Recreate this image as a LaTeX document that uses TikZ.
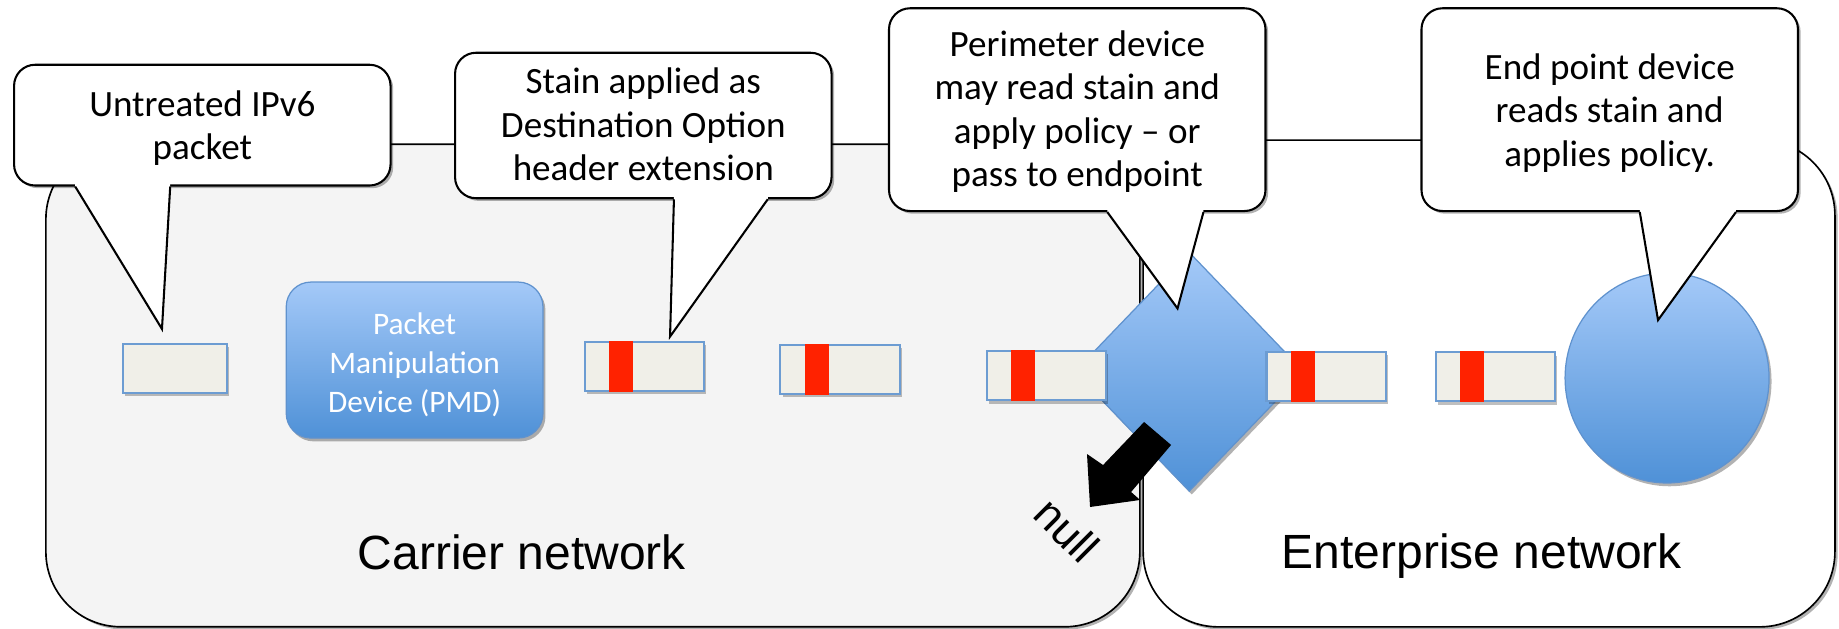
\documentclass[tikz,border=0pt]{standalone}
\usepackage{fontspec}
\setmainfont{Carlito}
\newfontfamily\arialfont{Liberation Sans}
\usetikzlibrary{shapes.geometric,shadows,calc}

\definecolor{blueTop}{HTML}{A4C9F8}
\definecolor{blueBot}{HTML}{4F91D7}
\definecolor{blueEdge}{HTML}{5F92CE}
\definecolor{packetFill}{HTML}{F0EFE8}
\definecolor{packetEdge}{HTML}{6C9CD2}
\definecolor{stainRed}{HTML}{FF2200}
\definecolor{carrierFill}{HTML}{F4F4F4}

% centred lines, lowered a little inside their box without changing its size
\newcommand\droptext[2]{\raisebox{-#1}[\height][\depth]{\begin{tabular}{@{}c@{}}#2\end{tabular}}}

\begin{document}
\begin{tikzpicture}[x=0.02cm,y=-0.02cm,
  softshadow/.style={drop shadow={shadow xshift=1.3pt,shadow yshift=-1.3pt,opacity=0.3,fill=black}},
  net/.style={rectangle,draw=black,line width=0.8pt,rounded corners=36.4pt,inner sep=0pt,softshadow},
  netlabel/.style={font=\arialfont\fontsize{23.3}{28}\selectfont,anchor=base,inner sep=0pt},
  callout/.style={rectangle,draw=black,fill=white,line width=1pt,rounded corners=10.2pt,
    minimum width=182.7pt,inner sep=0pt,
    font=\fontsize{18}{21}\selectfont,softshadow},
  pointer/.style={draw=black,line width=1pt,line join=miter},
  bluebody/.style={top color=blueTop,bottom color=blueBot,draw=blueEdge,line width=0.6pt,inner sep=0pt,
    drop shadow={shadow xshift=1.2pt,shadow yshift=-1.6pt,opacity=0.3,fill=black}},
  packet/.style={rectangle,fill=packetFill,draw=packetEdge,line width=1pt,inner sep=0pt,
    minimum width=57.8pt,minimum height=23.8pt,
    drop shadow={shadow xshift=1pt,shadow yshift=-1.5pt,opacity=0.25,fill=black}},
  stain/.style={fill=stainRed}
]
\useasboundingbox (0,0) rectangle (1568,536);

% the two networks
\node[net,fill=carrierFill,minimum width=530.9pt,minimum height=234.2pt] (carrier) at (505.5,328.7) {};
\node[net,fill=white,minimum width=335.7pt,minimum height=236.2pt] (enterprise) at (1269.6,327) {};

% perimeter device and end point device
\node[diamond,bluebody,minimum width=111.5pt,minimum height=116.1pt] (perimeter) at (1014,317) {};
\node[ellipse,bluebody,minimum width=99pt,minimum height=101.9pt] (endpoint) at (1421.4,322.3) {};

% packet manipulation device
\node[rectangle,bluebody,rounded corners=12pt,minimum width=124.6pt,minimum height=75.7pt,
  text=white,font=\fontsize{15.2}{19}\selectfont] (pmd) at (353.5,307)
  {\droptext{2.6pt}{Packet\\Manipulation\\Device (PMD)}};

% packets along the path
\node[packet,minimum width=50.5pt] (p1) at (149.3,314.2) {};
\node[packet] (p2) at (549.5,312.5) {};
\node[packet] (p3) at (716.2,315.1) {};
\node[packet] (p4) at (892.3,320.5) {};
\node[packet] (p5) at (1130.6,321) {};
\node[packet] (p6) at (1275.1,321.4) {};
\foreach \p in {p2,p3,p4,p5,p6}{
  \fill[stain] ($(\p.north west)+(21.5,0)$) rectangle ($(\p.south west)+(42,0)$);
}

% drop to null
\fill[black] (975.5,359.8) -- (940.5,396.5) -- (926.8,387.1) -- (929.4,432.3)
  -- (972.1,426.3) -- (964.4,419.5) -- (998.5,379.4) -- cycle;
\node[font=\arialfont\fontsize{21.5}{25}\selectfont,rotate=-45,inner sep=0pt] (nulllabel) at (909.6,452) {null};

% callouts
\node[callout,minimum height=58.6pt] (c1) at (172.5,106.7) {\droptext{2pt}{Untreated IPv6\\packet}};
\node[callout,minimum height=70.6pt] (c2) at (548.5,107) {\droptext{1.4pt}{Stain applied as\\Destination Option\\header extension}};
\node[callout,minimum height=98.4pt] (c3) at (918.5,93.5) {\droptext{1.5pt}{Perimeter device\\may read stain and\\apply policy -- or\\pass to endpoint}};
\node[callout,minimum height=98.4pt] (c4) at (1372.5,93.5) {\droptext{2.2pt}{End point device\\reads stain and\\applies policy.}};

\coordinate (t1) at (138.1,280.5);
\coordinate (t2) at (571.3,287);
\coordinate (t3) at (1004,263);
\coordinate (t4) at (1413.7,272.9);

\foreach \c/\t/\a/\b in {c1/t1/53/134, c2/t2/187.5/267.5, c3/t3/187/269, c4/t4/187/269}{
  \fill[white] ($(\c.south west)+(\a,-3)$) -- ($(\c.south west)+(\a,0)$) -- (\t)
    -- ($(\c.south west)+(\b,0)$) -- ($(\c.south west)+(\b,-3)$) -- cycle;
  \draw[pointer] ($(\c.south west)+(\a,0)$) -- (\t) -- ($(\c.south west)+(\b,0)$);
}

% network names
\node[netlabel] (carrierlabel) at (445,486) {Carrier network};
\node[netlabel] (enterpriselabel) at (1263.5,485) {Enterprise network};
\end{tikzpicture}
\end{document}
